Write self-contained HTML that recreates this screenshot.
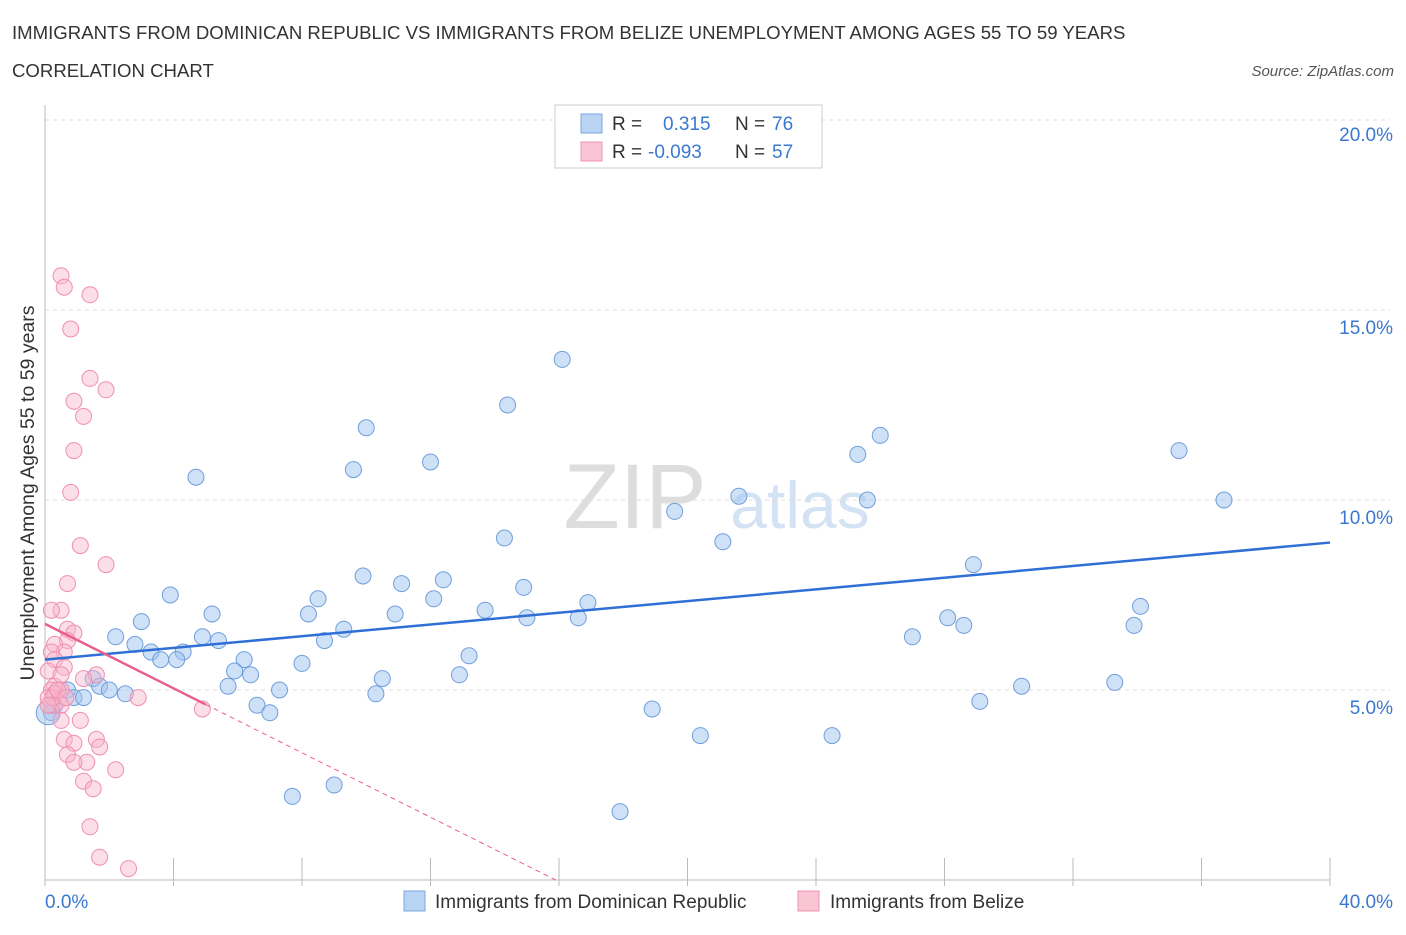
<!DOCTYPE html>
<html><head><meta charset="utf-8"><style>
body{margin:0;background:#fff;font-family:"Liberation Sans",sans-serif;}
svg text{font-family:"Liberation Sans",sans-serif;}
</style></head><body>
<svg id="chart" width="1406" height="930" viewBox="0 0 1406 930">
<text x="12" y="39" font-size="18.6" fill="#333">IMMIGRANTS FROM DOMINICAN REPUBLIC VS IMMIGRANTS FROM BELIZE UNEMPLOYMENT AMONG AGES 55 TO 59 YEARS</text>
<text x="12" y="77" font-size="18.6" fill="#333">CORRELATION CHART</text>
<text x="1394" y="76" font-size="15" fill="#555" font-style="italic" text-anchor="end">Source: ZipAtlas.com</text>
<text x="635" y="528" font-size="92" fill="#ddd" font-family="Liberation Serif" text-anchor="middle">ZIP</text>
<text x="800" y="528" font-size="66" fill="#d4e3f4" text-anchor="middle">atlas</text>
<g id="grid"></g>
<g id="axes"></g>
<g id="pts"></g>
<g id="lines"></g>
<text transform="translate(34,493) rotate(-90)" font-size="19.5" fill="#333" text-anchor="middle">Unemployment Among Ages 55 to 59 years</text>
<g>
<rect x="555" y="105" width="267" height="63" fill="#fff" stroke="#ccc"/>
<rect x="581" y="114" width="21" height="19" fill="#b9d3f3" stroke="#7aa7e0"/>
<rect x="581" y="142" width="21" height="19" fill="#f9c4d4" stroke="#ef94b0"/>
<text x="612" y="130" font-size="19" fill="#333">R = <tspan x="663" fill="#3a78d0">0.315</tspan><tspan x="735" fill="#333">N = </tspan><tspan x="772" fill="#3a78d0">76</tspan></text>
<text x="612" y="158" font-size="19" fill="#333">R = <tspan x="648" fill="#3a78d0">-0.093</tspan><tspan x="735" fill="#333">N = </tspan><tspan x="772" fill="#3a78d0">57</tspan></text>
</g>
<g>
<rect x="404" y="891" width="21" height="20" fill="#b9d3f3" stroke="#7aa7e0"/>
<text x="435" y="908" font-size="19" fill="#333">Immigrants from Dominican Republic</text>
<rect x="798" y="891" width="21" height="20" fill="#f9c4d4" stroke="#ef94b0"/>
<text x="830" y="908" font-size="19" fill="#333">Immigrants from Belize</text>
</g>
</svg>
<script>
const yTicks=[5,10,15,20];
const yTickLabels=["5.0%","10.0%","15.0%","20.0%"];
const xTickLabels=["0.0%","40.0%"];
const blueX=[16.1,14.4,10.0,26.0,9.6,12.0,4.7,25.3,35.3,21.6,25.6,19.6,36.7,14.3,21.1,28.9,9.9,11.1,12.4,14.9,3.9,8.5,12.1,5.2,8.2,10.9,13.7,16.9,16.6,15.0,3.0,34.1,28.1,28.6,33.9,9.3,8.7,27.0,2.2,2.8,4.9,5.4,3.3,4.3,3.6,4.1,13.2,8.0,6.2,5.9,6.4,12.9,10.5,1.5,1.7,2.0,2.5,0.7,5.7,7.3,10.3,33.3,30.4,29.1,0.9,1.2,6.6,7.0,18.9,20.4,24.5,7.7,9.0,17.9,0.3,0.2];
const blueY=[13.7,12.5,11.9,11.7,10.8,11.0,10.6,11.2,11.3,10.1,10.0,9.7,10.0,9.0,8.9,8.3,8.0,7.8,7.9,7.7,7.5,7.4,7.4,7.0,7.0,7.0,7.1,7.3,6.9,6.9,6.8,7.2,6.9,6.7,6.7,6.6,6.3,6.4,6.4,6.2,6.4,6.3,6.0,6.0,5.8,5.8,5.9,5.7,5.8,5.5,5.4,5.4,5.3,5.3,5.1,5.0,4.9,5.0,5.1,5.0,4.9,5.2,5.1,4.7,4.8,4.8,4.6,4.4,4.5,3.8,3.8,2.2,2.5,1.8,4.6,4.4];
const pinkX=[0.5,0.6,1.4,0.8,1.4,1.9,0.9,1.2,0.9,0.8,1.1,1.9,0.7,0.5,0.2,0.7,0.9,0.7,0.3,0.6,0.2,0.3,0.6,0.1,1.6,1.2,0.3,0.5,0.2,0.3,0.1,0.4,0.2,0.5,2.9,4.9,1.1,0.5,0.6,0.9,1.6,1.7,0.7,1.3,0.9,2.2,1.2,1.5,1.4,1.7,2.6,0.25,0.4,0.1,0.5,0.65];
const pinkY=[15.9,15.6,15.4,14.5,13.2,12.9,12.6,12.2,11.3,10.2,8.8,8.3,7.8,7.1,7.1,6.6,6.5,6.3,6.2,6.0,6.0,5.8,5.6,5.5,5.4,5.3,5.1,5.0,5.0,4.9,4.8,4.7,4.6,4.6,4.8,4.5,4.2,4.2,3.7,3.6,3.7,3.5,3.3,3.1,3.1,2.9,2.6,2.4,1.4,0.6,0.3,4.8,5.0,4.6,5.4,4.8];
const blueTrend=[0.315,5.8,8.88];
const pinkTrend=[6.74,-0.424];
const X0=45,X1=1330,Y0=880,PY=38;
function sx(v){return X0+(X1-X0)*v/40;}
function sy(v){return Y0-v*PY;}
const NS="http://www.w3.org/2000/svg";
function mk(tag,attrs,parent){const e=document.createElementNS(NS,tag);for(const k in attrs)e.setAttribute(k,attrs[k]);parent.appendChild(e);return e;}
const grid=document.getElementById('grid'),axes=document.getElementById('axes'),pts=document.getElementById('pts'),lines=document.getElementById('lines');
yTicks.forEach((t,i)=>{
 const l=mk('line',{x1:X0,x2:X1+60,y1:sy(t),y2:sy(t),stroke:'#ddd','stroke-dasharray':'4,4'},grid);
 
 
 const tx=mk('text',{x:1393,y:sy(t)+(i===3?21:24),'font-size':19,fill:'#3a78d0','text-anchor':'end'},axes);
 tx.textContent=yTickLabels[i];
 
 
});
const ya=mk('line',{x1:X0,x2:X0,y1:105,y2:Y0,stroke:'#bbb'},axes);


const xa=mk('line',{x1:X0,x2:X1,y1:Y0,y2:Y0,stroke:'#bbb'},axes);


for(let i=0;i<=10;i++){
 const t=mk('line',{x1:sx(i*4),x2:sx(i*4),y1:(i>0?858:Y0),y2:Y0+6,stroke:'#bbb'},axes);
 
 
}
[[0,45,'start'],[1,1393,'end']].forEach(([i,x,a])=>{
 const tx=mk('text',{x:x,y:908,'font-size':19,fill:'#3a78d0','text-anchor':a},axes);
 tx.textContent=xTickLabels[i];
 
 
});
blueX.forEach((x,i)=>{
 const c=mk('circle',{cx:sx(x),cy:sy(blueY[i]),r:8,fill:'rgba(160,196,240,0.5)',stroke:'#6f9fdc','stroke-width':1},pts);
 
 
});
const big=mk('circle',{cx:sx(0.1),cy:sy(4.4),r:12,fill:'rgba(160,196,240,0.5)',stroke:'#6f9fdc'},pts);


pinkX.forEach((x,i)=>{
 const c=mk('circle',{cx:sx(x),cy:sy(pinkY[i]),r:8,fill:'rgba(248,182,204,0.45)',stroke:'#ef8fae','stroke-width':1},pts);
 
 
});
const bl=mk('line',{x1:sx(0),y1:sy(blueTrend[1]),x2:sx(40),y2:sy(blueTrend[2]),stroke:'#2f6fd6','stroke-width':2.5},lines);


const pEnd=-pinkTrend[0]/pinkTrend[1];
const pl=mk('line',{x1:sx(0),y1:sy(pinkTrend[0]),x2:sx(5),y2:sy(pinkTrend[0]+pinkTrend[1]*5),stroke:'#e8608a','stroke-width':2.5},lines);


const pd=mk('line',{x1:sx(5),y1:sy(pinkTrend[0]+pinkTrend[1]*5),x2:sx(pEnd),y2:sy(0),stroke:'#e8608a','stroke-width':1,'stroke-dasharray':'5,4'},lines);


</script>
</body></html>
